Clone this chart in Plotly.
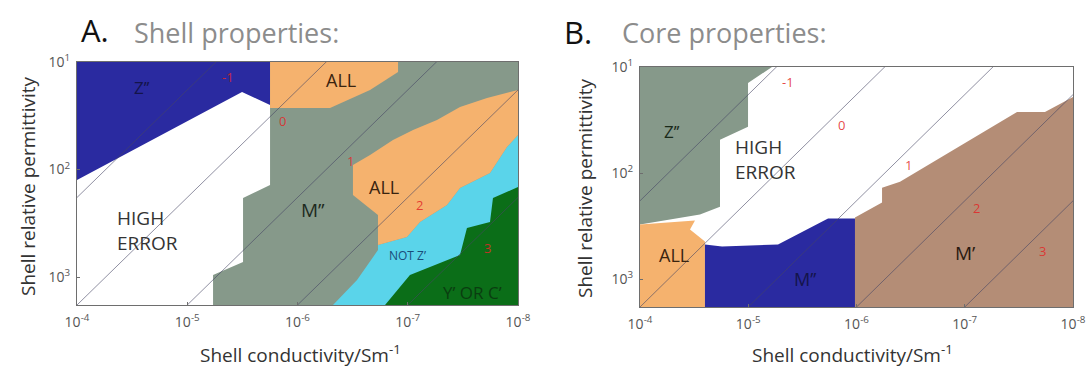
import plotly.graph_objects as go

W, H = 1089, 372

# ---------------- data (log10 units: sigma in S/m, relative permittivity) -------------
# axis ranges (log10)
x_range = [-4, -8]
y_range = [3.26, 1]

x_tick_exp = [-4, -5, -6, -7, -8]
y_tick_exp = [1, 2, 3]

# constant-ratio guide lines: log10(eps) - log10(sigma)
line_offsets = [6.26, 7.26, 8.26, 9.26, 10.26]
line_labels = ["-1", "0", "1", "2", "3"]
line_label_sig = [-5.37, -5.86, -6.48, -7.11, -7.72]
line_label_eps = [1.14, 1.55, 1.92, 2.33, 2.73]

# ---- Panel A: shell properties regions ----
A_gray_sig = [-5.751, -8.0, -8.0, -5.234, -5.234, -5.506, -5.506, -5.751]
A_gray_eps = [1.0, 1.0, 3.26, 3.26, 2.981, 2.860, 2.265, 2.144]

A_blue_sig = [-4.0, -5.751, -5.751, -5.497, -4.0]
A_blue_eps = [1.0, 1.0, 1.40, 1.279, 2.098]

A_otop_sig = [-5.751, -6.912, -6.912, -6.658, -6.295, -5.751]
A_otop_eps = [1.0, 1.0, 1.093, 1.260, 1.428, 1.428]

A_cyan_sig = [-6.322, -6.540, -6.730, -6.730, -6.993, -7.111, -7.356, -7.474, -7.746, -7.900, -8.0, -8.0]
A_cyan_eps = [3.26, 3.028, 2.749, 2.702, 2.628, 2.488, 2.330, 2.172, 2.033, 1.791, 1.679, 3.26]

A_omid_sig = [-6.503, -6.658, -6.866, -7.048, -7.265, -7.474, -7.719, -8.0, -8.0, -7.900, -7.746,
              -7.474, -7.356, -7.111, -6.993, -6.730, -6.730, -6.503]
A_omid_eps = [1.958, 1.865, 1.726, 1.633, 1.540, 1.419, 1.335, 1.260, 1.679, 1.791, 2.033,
              2.172, 2.330, 2.488, 2.628, 2.702, 2.423, 2.237]

A_green_sig = [-6.794, -7.020, -7.474, -7.537, -7.746, -7.773, -8.0, -8.0]
A_green_eps = [3.26, 2.981, 2.795, 2.544, 2.488, 2.265, 2.163, 3.26]

# ---- Panel B: core properties regions ----
B_gray_sig = [-4.0, -5.219, -4.998, -4.998, -4.739, -4.739, -4.554, -4.0]
B_gray_eps = [1.0, 1.0, 1.150, 1.563, 1.685, 2.315, 2.390, 2.484]

B_orange_sig = [-4.0, -4.508, -4.462, -4.600, -4.600, -4.0]
B_orange_eps = [2.484, 2.446, 2.531, 2.643, 3.26, 3.26]

B_blue_sig = [-4.600, -4.600, -4.758, -5.275, -5.737, -5.986, -5.986]
B_blue_eps = [3.26, 2.671, 2.690, 2.671, 2.427, 2.427, 3.26]

B_brown_sig = [-5.986, -5.986, -6.236, -6.236, -6.402, -7.483, -7.741, -8.0, -8.0]
B_brown_eps = [3.26, 2.418, 2.277, 2.136, 2.080, 1.423, 1.423, 1.282, 3.26]

# region labels: (text, log10 sigma, log10 eps, size, color)
A_labels = [
    ("Z’’", -4.59, 1.24, 17, "#14144a"),
    ("HIGH<br>ERROR", -4.64, 2.57, 19, "#333333"),
    ("ALL", -6.39, 1.17, 18, "#3a2410"),
    ("ALL", -6.78, 2.16, 18, "#3a2410"),
    ("M’’", -6.14, 2.38, 19, "#1e2a1e"),
    ("NOT Z’", -7.00, 2.80, 12, "#1a4d7a"),
    ("Y’ OR C’", -7.59, 3.14, 17, "#0a3d10"),
]
B_labels = [
    ("Z’’", -4.30, 1.61, 17, "#1a2a1a"),
    ("HIGH<br>ERROR", -5.16, 1.87, 19, "#333333"),
    ("ALL", -4.31, 2.77, 18, "#3a2410"),
    ("M’’", -5.52, 3.00, 18, "#14144a"),
    ("M’", -7.00, 2.75, 19, "#2a1a10"),
]

# ------------------------------------------------------------------------------------
C_GRAY = "#86998a"
C_BLUE = "#2a2aa0"
C_ORANGE = "#f5b26e"
C_CYAN = "#5ad4ea"
C_GREEN = "#0b6e18"
C_BROWN = "#b48d76"

FONT = "Open Sans"

fig = go.Figure()


def p10(v):
    return [10 ** a for a in v]


def region(sig, eps, color, ax):
    fig.add_trace(go.Scatter(
        x=p10(sig), y=p10(eps), mode="lines", fill="toself",
        fillcolor=color, line=dict(width=0, color=color),
        hoverinfo="skip", showlegend=False,
        xaxis="x" if ax == 1 else "x2", yaxis="y" if ax == 1 else "y2"))


# Panel A
region(A_gray_sig, A_gray_eps, C_GRAY, 1)
region(A_blue_sig, A_blue_eps, C_BLUE, 1)
region(A_otop_sig, A_otop_eps, C_ORANGE, 1)
region(A_cyan_sig, A_cyan_eps, C_CYAN, 1)
region(A_omid_sig, A_omid_eps, C_ORANGE, 1)
region(A_green_sig, A_green_eps, C_GREEN, 1)

# Panel B
region(B_gray_sig, B_gray_eps, C_GRAY, 2)
region(B_orange_sig, B_orange_eps, C_ORANGE, 2)
region(B_blue_sig, B_blue_eps, C_BLUE, 2)
region(B_brown_sig, B_brown_eps, C_BROWN, 2)

# guide lines + labels
for ax in (1, 2):
    xa = "x" if ax == 1 else "x2"
    ya = "y" if ax == 1 else "y2"
    for c in line_offsets:
        sig = [x_range[0] + 0.5, x_range[1] - 0.5]
        fig.add_trace(go.Scatter(
            x=p10(sig), y=p10([s + c for s in sig]), mode="lines",
            line=dict(color="rgba(70,70,100,0.6)", width=1),
            hoverinfo="skip", showlegend=False, xaxis=xa, yaxis=ya))
    for lab, s, e in zip(line_labels, line_label_sig, line_label_eps):
        fig.add_annotation(x=s, y=e, xref=xa, yref=ya, text=lab, showarrow=False,
                           font=dict(family=FONT, size=13, color="rgba(225,40,40,0.85)"))

for labels, ax in ((A_labels, 1), (B_labels, 2)):
    xa = "x" if ax == 1 else "x2"
    ya = "y" if ax == 1 else "y2"
    for txt, s, e, sz, col in labels:
        fig.add_annotation(x=s, y=e, xref=xa, yref=ya, text=txt, showarrow=False,
                           align="left", font=dict(family=FONT, size=sz, color=col))


def paper(px, py):
    return px / W, 1 - py / H


def xaxis_cfg(x0, x1, anchor):
    return dict(type="log", range=x_range, domain=[x0 / W, x1 / W], anchor=anchor,
                automargin=False,
                tickvals=[10 ** e for e in x_tick_exp],
                ticktext=[f"10<sup>{e}</sup>" for e in x_tick_exp],
                showgrid=False, zeroline=False, showline=True, mirror=True,
                linecolor="#6e6e6e", linewidth=1, ticks="inside", ticklen=3,
                tickcolor="#6e6e6e", ticklabelstandoff=4,
                tickfont=dict(family=FONT, size=14, color="#555555"))


def yaxis_cfg(y0, y1, anchor):
    return dict(type="log", range=y_range, domain=[1 - y1 / H, 1 - y0 / H], anchor=anchor,
                automargin=False,
                tickvals=[10 ** e for e in y_tick_exp],
                ticktext=[f"10<sup>{e}</sup>" for e in y_tick_exp],
                showgrid=False, zeroline=False, showline=True, mirror=True,
                linecolor="#6e6e6e", linewidth=1, ticks="inside", ticklen=3,
                tickcolor="#6e6e6e", ticklabelstandoff=3,
                tickfont=dict(family=FONT, size=14, color="#555555"))


fig.update_layout(
    width=W, height=H, margin=dict(l=0, r=0, t=0, b=0, autoexpand=False),
    paper_bgcolor="white", plot_bgcolor="white",
    xaxis=xaxis_cfg(77, 518, "y"), yaxis=yaxis_cfg(62, 305, "x"),
    xaxis2=xaxis_cfg(640, 1073, "y2"), yaxis2=yaxis_cfg(67, 307, "x2"),
    showlegend=False,
)

# titles and axis titles
texts = [
    ("A.", 95, 30, 31, "#111111", 0, "center"),
    ("Shell properties:", 132, 32, 27, "#8c8c8c", 0, "left"),
    ("B.", 578, 32, 31, "#111111", 0, "center"),
    ("Core properties:", 620, 32, 27, "#8c8c8c", 0, "left"),
    ("Shell relative permittivity", 28, 186, 19, "#333333", -90, "center"),
    ("Shell relative permittivity", 585, 188, 19, "#333333", -90, "center"),
    ("Shell conductivity/Sm<sup>-1</sup>", 300, 354, 19, "#333333", 0, "center"),
    ("Shell conductivity/Sm<sup>-1</sup>", 852, 354, 19, "#333333", 0, "center"),
]
for txt, px, py, sz, col, ang, anc in texts:
    x, y = paper(px, py)
    fig.add_annotation(x=x, y=y, xref="paper", yref="paper", text=txt, showarrow=False,
                       textangle=ang, xanchor=anc, yanchor="middle",
                       font=dict(family=FONT, size=sz, color=col))

fig.write_html("out.html")
